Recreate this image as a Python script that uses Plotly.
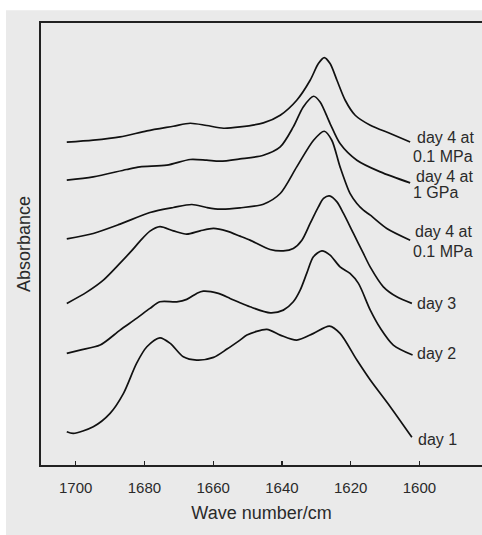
import plotly.graph_objects as go

# ---- data ----
wn_d4a = [1702.6, 1694.9, 1687.1, 1679.3, 1671.6, 1666.7, 1661.9, 1657.0, 1652.2, 1645.4, 1640.5,
          1635.7, 1631.8, 1629.4, 1627.7, 1626.0, 1624.0, 1621.6, 1618.7, 1614.3, 1608.5, 1602.7]
ab_d4a = [3.23, 3.25, 3.283, 3.343, 3.39, 3.42, 3.397, 3.37, 3.383, 3.423, 3.50,
          3.65, 3.85, 4.017, 4.077, 4.017, 3.85, 3.65, 3.50, 3.40, 3.317, 3.233]

wn_d4g = [1702.6, 1694.9, 1685.2, 1681.3, 1673.5, 1666.7, 1661.9, 1658.0, 1652.2, 1645.4, 1640.5,
          1636.7, 1633.8, 1630.8, 1628.9, 1626.0, 1623.1, 1618.2, 1611.4, 1602.7]
ab_d4g = [2.85, 2.883, 2.957, 2.983, 3.00, 3.057, 3.05, 3.04, 3.063, 3.10, 3.183,
          3.383, 3.583, 3.69, 3.633, 3.417, 3.217, 3.05, 2.933, 2.823]

wn_d4b = [1702.6, 1694.9, 1687.1, 1678.4, 1671.6, 1666.2, 1661.9, 1658.0, 1652.2, 1645.4, 1640.5,
          1635.7, 1630.8, 1627.7, 1625.5, 1623.1, 1620.2, 1618.2, 1616.3, 1614.3, 1609.5, 1602.7]
ab_d4b = [2.263, 2.317, 2.41, 2.527, 2.577, 2.607, 2.577, 2.56, 2.573, 2.61, 2.717,
          2.983, 3.25, 3.34, 3.25, 2.983, 2.717, 2.617, 2.55, 2.50, 2.367, 2.25]

wn_d3 = [1702.6, 1696.8, 1691.96, 1687.1, 1683.7, 1681.3, 1678.4, 1675.5, 1671.6, 1667.7, 1663.8,
         1659.9, 1656.0, 1652.2, 1649.3, 1643.45, 1639.6, 1636.7, 1634.2, 1631.8, 1629.4, 1627.9,
         1626.2, 1624.0, 1622.1, 1619.2, 1616.3, 1614.3, 1610.5, 1606.6, 1602.2]
ab_d3 = [1.617, 1.73, 1.85, 2.02, 2.145, 2.24, 2.34, 2.385, 2.343, 2.31, 2.343,
         2.367, 2.34, 2.29, 2.25, 2.157, 2.143, 2.167, 2.25, 2.417, 2.583, 2.667,
         2.693, 2.633, 2.517, 2.317, 2.117, 1.98, 1.783, 1.683, 1.617]

wn_d2 = [1702.6, 1698.75, 1692.9, 1687.1, 1682.3, 1678.4, 1675.5, 1670.6, 1667.7, 1664.8, 1662.9,
         1658.5, 1655.1, 1652.2, 1649.3, 1643.4, 1639.6, 1636.7, 1634.7, 1632.8, 1630.85, 1628.4,
         1626.0, 1623.1, 1620.2, 1617.75, 1614.3, 1611.4, 1607.6, 1602.0]
ab_d2 = [1.117, 1.15, 1.20, 1.35, 1.467, 1.567, 1.633, 1.633, 1.657, 1.717, 1.74,
         1.717, 1.667, 1.623, 1.583, 1.523, 1.55, 1.633, 1.75, 1.917, 2.083, 2.143,
         2.10, 1.983, 1.917, 1.817, 1.55, 1.37, 1.20, 1.10]

wn_d1 = [1702.6, 1700.7, 1694.9, 1690.0, 1686.1, 1682.3, 1679.3, 1675.5, 1672.5, 1668.7, 1664.8,
         1659.9, 1656.0, 1652.2, 1650.2, 1644.4, 1640.5, 1635.7, 1630.8, 1626.2, 1623.1, 1618.2,
         1614.3, 1608.5, 1602.2]
ab_d1 = [0.333, 0.317, 0.383, 0.517, 0.717, 1.017, 1.183, 1.273, 1.217, 1.083, 1.05,
         1.077, 1.16, 1.25, 1.30, 1.357, 1.30, 1.25, 1.317, 1.39, 1.317, 1.05,
         0.85, 0.583, 0.277]

series = [(wn_d4a, ab_d4a), (wn_d4g, ab_d4g), (wn_d4b, ab_d4b),
          (wn_d3, ab_d3), (wn_d2, ab_d2), (wn_d1, ab_d1)]

# label lines: text, x (wavenumber), y (absorbance)
label_text = ["day 4 at", "0.1 MPa", "day 4 at", "1 GPa", "day 4 at", "0.1 MPa",
              "day 3", "day 2", "day 1"]
label_x = [1601.05, 1602.15, 1601.35, 1602.15, 1601.45, 1602.15, 1601.05, 1601.05, 1600.85]
label_y = [3.275, 3.09, 2.89, 2.725, 2.34, 2.135, 1.617, 1.12, 0.26]

x_ticks = [1700, 1680, 1660, 1640, 1620, 1600]

FONT = "Liberation Sans, Arial, Helvetica, sans-serif"

fig = go.Figure()
for wn, ab in series:
    fig.add_trace(go.Scatter(x=wn, y=ab, mode="lines",
                             line=dict(color="#111111", width=1.7, shape="spline", smoothing=0.8),
                             hoverinfo="skip", showlegend=False))

for t, x, y in zip(label_text, label_x, label_y):
    fig.add_annotation(x=x, y=y, text=t, showarrow=False, xanchor="left", yanchor="middle",
                       borderpad=0, font=dict(family=FONT, size=16, color="#2a2a2a"))

# gray panel background
fig.add_shape(type="rect", xref="paper", yref="paper", x0=-0.0794, x1=1.01, y0=-0.17, y1=1.0287,
              fillcolor="#eaeaea", line=dict(width=0), layer="below")

fig.update_layout(
    width=482, height=535,
    margin=dict(l=41, r=0, t=23, b=70),
    paper_bgcolor="white", plot_bgcolor="rgba(0,0,0,0)",
    font=dict(family=FONT, color="#2a2a2a"),
    showlegend=False,
)
fig.update_xaxes(range=[1710.1, 1581.8], tickvals=x_ticks, ticks="inside", ticklen=4,
                 tickwidth=1.2, tickcolor="#222", showline=True, linecolor="#222", linewidth=1.6,
                 mirror=True, showgrid=False, zeroline=False, ticklabelstandoff=8,
                 tickfont=dict(family=FONT, size=15, color="#2a2a2a"),
                 title=dict(text="Wave number/cm", font=dict(family=FONT, size=18, color="#2a2a2a"),
                            standoff=12))
fig.update_yaxes(range=[0, 4.423], showticklabels=False, ticks="", showline=True,
                 linecolor="#222", linewidth=1.6, showgrid=False, zeroline=False,
                 title=dict(text="Absorbance", font=dict(family=FONT, size=18, color="#2a2a2a"),
                            standoff=4))

fig.write_html("out.html", config={"displayModeBar": False, "staticPlot": True},
               post_script="document.body.style.margin='0';document.body.style.overflow='hidden';")
